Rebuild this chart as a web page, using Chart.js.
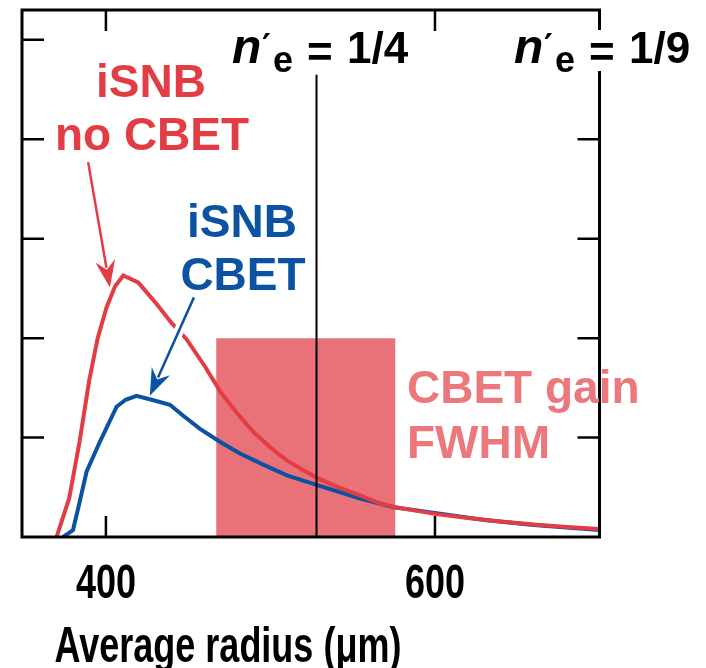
<!DOCTYPE html>
<html>
<head>
<meta charset="utf-8">
<script src="https://cdn.jsdelivr.net/npm/chart.js@4.4.1/dist/chart.umd.min.js"></script>
<style>
html, body { margin: 0; padding: 0; background: #fff; }
canvas { display: block; }
</style>
</head>
<body>
<canvas id="chart" width="706" height="668"></canvas>
<script>
// iSNB without CBET (red)
var radiusNoCbet = [370, 377.7, 384, 389.8, 395, 400.4, 405.5, 410.5, 419.6, 430, 440, 449, 460, 470, 480, 490, 500, 510, 520, 529, 540, 554, 566, 576, 590, 601, 620, 640, 660, 680, 700];
var valuesNoCbet = [0, 0.39, 0.96, 1.57, 2.0, 2.31, 2.52, 2.63, 2.56, 2.36, 2.15, 1.99, 1.72, 1.45, 1.24, 1.05, 0.9, 0.77, 0.67, 0.59, 0.51, 0.42, 0.34, 0.3, 0.26, 0.23, 0.19, 0.155, 0.125, 0.1, 0.08];

// iSNB with CBET (blue)
var radiusCbet = [374, 380, 384, 388.3, 396.4, 406.5, 412, 418.6, 430, 438.9, 447, 457, 470, 481.5, 494, 510, 529, 554, 575, 601, 630, 660, 700];
var valuesCbet = [0, 0.07, 0.35, 0.66, 0.96, 1.31, 1.38, 1.42, 1.37, 1.33, 1.22, 1.09, 0.95, 0.84, 0.74, 0.62, 0.52, 0.39, 0.3, 0.24, 0.17, 0.12, 0.07];

var xTickValues = [400, 600];
var yTickValues = [1, 2, 3, 4, 5];

var quarterRadius = 528;        // n'e = 1/4
var quarterTop = 4.65;
var gainRange = [467, 576];     // CBET gain FWHM
var gainHeight = 2;

// arrows, in data units: [fromX, fromY, toX, toY]
var arrowNoCbet = [389.2, 3.77, 402.4, 2.51];
var arrowCbet = [453.5, 2.41, 426.7, 1.42];

var RED = '#e23c45';
var BLUE = '#0b52a2';
var PINK = '#e87277';
var PINK_TEXT = '#ec777d';
var FONT = '"Liberation Sans", Arial, sans-serif';

function toPoints(xs, ys) {
    return xs.map(function (x, i) { return { x: x, y: ys[i] }; });
}

// the original uses a condensed face, so squeeze the regular one
function narrowText(ctx, text, x, y, squeeze) {
    ctx.save();
    ctx.translate(x, y);
    ctx.scale(squeeze, 1);
    ctx.fillText(text, 0, 0);
    ctx.restore();
}

function drawArrow(chart, a, color, halo) {
    var ctx = chart.ctx;
    var xs = chart.scales.x, ys = chart.scales.y;
    var x0 = xs.getPixelForValue(a[0]), y0 = ys.getPixelForValue(a[1]);
    var x1 = xs.getPixelForValue(a[2]), y1 = ys.getPixelForValue(a[3]);
    var ang = Math.atan2(y1 - y0, x1 - x0);
    var c = Math.cos(ang), s = Math.sin(ang);
    var len = 24, half = 10;
    var bx = x1 - len * c, by = y1 - len * s;
    ctx.save();
    ctx.lineCap = 'butt';
    if (halo) {
        ctx.strokeStyle = '#fff';
        ctx.lineWidth = 10;
        ctx.beginPath();
        ctx.moveTo(x0 + 12 * c, y0 + 12 * s);
        ctx.lineTo(bx, by);
        ctx.stroke();
    }
    ctx.strokeStyle = color;
    ctx.lineWidth = 2.5;
    ctx.beginPath();
    ctx.moveTo(x0, y0);
    ctx.lineTo(bx + 4 * c, by + 4 * s);
    ctx.stroke();
    ctx.fillStyle = color;
    ctx.beginPath();
    ctx.moveTo(x1, y1);
    ctx.lineTo(bx - half * s - 3 * c, by + half * c - 3 * s);
    ctx.lineTo(bx + 6 * c, by + 6 * s);
    ctx.lineTo(bx + half * s - 3 * c, by - half * c - 3 * s);
    ctx.closePath();
    ctx.fill();
    ctx.restore();
}

function densityLabel(ctx, left, value) {
    ctx.fillStyle = '#fff';
    ctx.fillRect(left - 4, 30, 192, 41);
    ctx.fillStyle = '#000';
    ctx.textAlign = 'left';
    ctx.textBaseline = 'alphabetic';
    ctx.font = 'italic bold 48px ' + FONT;
    ctx.fillText('n', left - 1, 63);
    ctx.font = 'bold 34px "DejaVu Sans", sans-serif';
    ctx.fillText('\u2032', left + 29, 58);
    ctx.font = 'bold 36px ' + FONT;
    ctx.fillText('e', left + 40, 72);
    ctx.font = 'bold 44px ' + FONT;
    ctx.fillText('=', left + 74, 67);
    ctx.fillText(value, left + 114, 63);
}

var framePlugin = {
    id: 'frame',
    afterDatasetsDraw: function (chart) {
        var ctx = chart.ctx, a = chart.chartArea;
        var xs = chart.scales.x, ys = chart.scales.y;
        ctx.save();
        ctx.strokeStyle = '#000';
        ctx.lineWidth = 3;
        ctx.strokeRect(a.left, a.top, a.right - a.left, a.bottom - a.top);
        ctx.lineWidth = 2.5;
        ctx.beginPath();
        xTickValues.forEach(function (v) {
            var px = xs.getPixelForValue(v);
            ctx.moveTo(px, a.bottom); ctx.lineTo(px, a.bottom - 21);
            ctx.moveTo(px, a.top); ctx.lineTo(px, a.top + 21);
        });
        yTickValues.forEach(function (v) {
            var py = ys.getPixelForValue(v);
            ctx.moveTo(a.left, py); ctx.lineTo(a.left + 22, py);
            ctx.moveTo(a.right, py); ctx.lineTo(a.right - 22, py);
        });
        ctx.stroke();
        ctx.restore();

        drawArrow(chart, arrowNoCbet, RED, false);
        drawArrow(chart, arrowCbet, BLUE, true);
    },
    afterDraw: function (chart) {
        var ctx = chart.ctx, a = chart.chartArea;
        var xs = chart.scales.x;
        ctx.save();
        ctx.textBaseline = 'alphabetic';
        ctx.textAlign = 'center';
        ctx.font = 'bold 46px ' + FONT;
        ctx.fillStyle = RED;
        ctx.fillText('iSNB', 151, 97);
        ctx.fillText('no CBET', 152, 150);
        ctx.fillStyle = BLUE;
        ctx.fillText('iSNB', 242, 237);
        ctx.fillText('CBET', 243, 290);
        ctx.textAlign = 'left';
        ctx.fillStyle = PINK_TEXT;
        ctx.fillText('CBET gain', 407, 403);
        ctx.fillText('FWHM', 407, 458);

        densityLabel(ctx, 233, '1/4');
        densityLabel(ctx, 515, '1/9');

        // x tick labels at the scale's own tick positions
        ctx.fillStyle = '#000';
        ctx.textAlign = 'center';
        ctx.font = 'bold 48px ' + FONT;
        xs.ticks.forEach(function (t) {
            narrowText(ctx, String(t.value), xs.getPixelForValue(t.value), a.bottom + 61, 0.75);
        });
        ctx.font = 'bold 50px ' + FONT;
        narrowText(ctx, 'Average radius (\u03bcm)', 228, 662, 0.72);
        ctx.restore();
    }
};

new Chart(document.getElementById('chart'), {
    type: 'line',
    data: {
        datasets: [
            {
                data: toPoints(radiusNoCbet, valuesNoCbet),
                borderColor: RED,
                borderWidth: 4,
                pointRadius: 0,
                tension: 0,
                order: 1
            },
            {
                data: toPoints(radiusCbet, valuesCbet),
                borderColor: BLUE,
                borderWidth: 4,
                pointRadius: 0,
                tension: 0,
                order: 2
            },
            {
                data: [{ x: quarterRadius, y: 0 }, { x: quarterRadius, y: quarterTop }],
                borderColor: '#000',
                borderWidth: 2,
                pointRadius: 0,
                order: 0
            },
            {
                data: [{ x: gainRange[0], y: gainHeight }, { x: gainRange[1], y: gainHeight }],
                borderWidth: 0,
                borderColor: 'rgba(0,0,0,0)',
                backgroundColor: PINK,
                fill: 'origin',
                pointRadius: 0,
                order: 3
            }
        ]
    },
    options: {
        responsive: false,
        animation: false,
        devicePixelRatio: 1,
        layout: { padding: { left: 22, top: 10, right: 106.5, bottom: 123 } },
        plugins: { legend: { display: false }, tooltip: { enabled: false } },
        scales: {
            x: {
                type: 'linear',
                min: 349,
                max: 700,
                grid: { display: false },
                border: { display: false },
                afterBuildTicks: function (scale) {
                    scale.ticks = xTickValues.map(function (v) { return { value: v }; });
                },
                ticks: { display: false }
            },
            y: {
                type: 'linear',
                min: 0,
                max: 5.3,
                display: false
            }
        }
    },
    plugins: [framePlugin]
});
</script>
</body>
</html>
